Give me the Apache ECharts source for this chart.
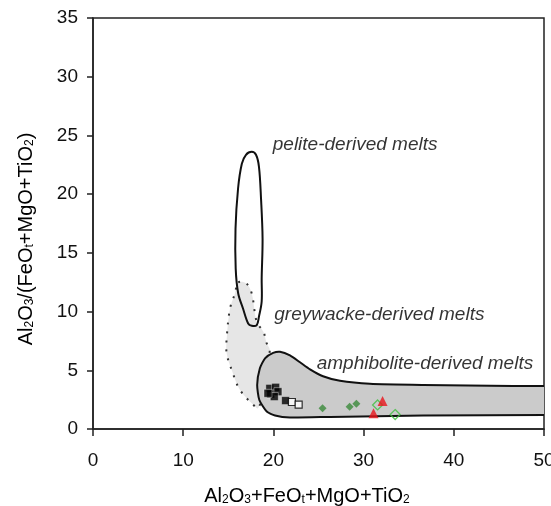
<!DOCTYPE html>
<html>
<head>
<meta charset="utf-8">
<script src="https://cdn.jsdelivr.net/npm/echarts@6/dist/echarts.min.js"></script>
<style>
  html, body { margin: 0; padding: 0; background: #fff; }
  #main { width: 551px; height: 506px; }
</style>
</head>
<body>
<div id="main"></div>
<script>
// field outlines (x = Al2O3+FeOt+MgO+TiO2, y = Al2O3/(FeOt+MgO+TiO2))
const pelite = [
  [17.6, 23.6], [18.07, 23.35], [18.4, 22.33], [18.63, 19.6], [18.8, 16.2],
  [18.7, 12.81], [18.7, 10.86], [18.4, 9.58], [18.15, 8.84], [17.6, 8.79],
  [17.2, 8.99], [16.63, 10.26], [16.1, 11.54], [15.82, 13.66], [15.8, 17.06],
  [16.08, 20.46], [16.5, 22.58], [16.96, 23.35]
];
const greywacke = [
  [16.1, 12.47], [17.0, 12.39], [17.6, 11.54], [18.15, 9.13], [18.9, 8.27],
  [19.26, 7.29], [19.6, 6.72], [18.9, 3.0], [18.3, 1.77], [17.96, 1.91],
  [16.3, 3.32], [15.38, 5.02], [14.82, 6.44], [14.82, 7.71], [15.19, 10.26],
  [15.74, 11.54]
];
// runs past the right edge of the plot, clipped there
const amphibolite = [
  [19.97, 6.48], [20.73, 6.58], [21.84, 6.27], [22.95, 5.68], [24.06, 5.08],
  [25.5, 4.49], [27.38, 4.1], [30.7, 3.85], [36.6, 3.75], [46.56, 3.66],
  [50.5, 3.66], [52, 3.66], [52, 1.2], [50.5, 1.2], [36.6, 1.15], [26.3, 1.03],
  [21.84, 0.98], [20.18, 1.15], [19.26, 1.49], [18.44, 2.47], [18.2, 3.75],
  [18.5, 5.17], [19.07, 6.02]
];

// samples
const blackFilledSquares = [
  [19.6, 3.46], [20.25, 3.55], [19.7, 2.98], [20.5, 3.18], [20.1, 2.76],
  [19.4, 3.04], [21.35, 2.42]
];
const openSquares = [[22.05, 2.3], [22.8, 2.08]];
const greenFilledDiamonds = [[25.45, 1.77], [28.45, 1.9], [29.2, 2.16]];
const greenOpenDiamonds = [[31.55, 2.05], [33.5, 1.23]];
const redTriangles = [[32.1, 2.38], [31.1, 1.34]];

// field names
const fieldLabels = [
  { name: 'pelite-derived melts', value: [19.93, 24.2] },
  { name: 'greywacke-derived melts', value: [20.1, 9.75] },
  { name: 'amphibolite-derived melts', value: [24.8, 5.6] }
];

const xTicks = { min: 0, max: 50, interval: 10 };
const yTicks = { min: 0, max: 35, interval: 5 };

function polygonSeries(points, style, smooth, z) {
  return {
    type: 'custom',
    coordinateSystem: 'cartesian2d',
    data: points,
    z: z,
    clip: true,
    silent: true,
    renderItem: function (params, api) {
      if (params.dataIndex !== 0) return null;
      const pts = points.map(function (p) { return api.coord(p); });
      return {
        type: 'polygon',
        shape: { points: pts, smooth: smooth },
        style: style
      };
    }
  };
}

const txt = '#111';
const font = 'Liberation Sans, Arial';
const rich = {
  n: { fontSize: 20, fontFamily: font, color: txt, verticalAlign: 'bottom', lineHeight: 24 },
  s: { fontSize: 12, fontFamily: font, color: txt, verticalAlign: 'bottom', lineHeight: 12 }
};

const chart = echarts.init(document.getElementById('main'));
chart.setOption({
  animation: false,
  backgroundColor: '#fff',
  grid: {
    left: 93, right: 7, top: 18, bottom: 77,
    outerBoundsMode: 'none',
    show: true, borderColor: '#222', borderWidth: 1.5
  },
  xAxis: {
    type: 'value',
    min: xTicks.min, max: xTicks.max, interval: xTicks.interval,
    axisLine: { show: true, lineStyle: { color: '#222', width: 1.5 } },
    axisTick: { show: true, length: 7, lineStyle: { color: '#222', width: 1.5 } },
    axisLabel: { color: txt, fontSize: 19, fontFamily: font, margin: 22 },
    splitLine: { show: false }
  },
  yAxis: {
    type: 'value',
    min: yTicks.min, max: yTicks.max, interval: yTicks.interval,
    axisLine: { show: true, lineStyle: { color: '#222', width: 1.5 } },
    axisTick: { show: true, length: 6, lineStyle: { color: '#222', width: 1.5 } },
    axisLabel: { color: txt, fontSize: 19, fontFamily: font, margin: 15 },
    splitLine: { show: false }
  },
  graphic: [
    {
      type: 'text',
      x: 307, y: 494,
      style: {
        text: '{n|Al}{s|2}{n|O}{s|3}{n|+FeO}{s|t}{n|+MgO+TiO}{s|2}',
        rich: rich,
        align: 'center', verticalAlign: 'middle'
      }
    },
    {
      type: 'text',
      x: 24, y: 239,
      rotation: Math.PI / 2,
      style: {
        text: '{n|Al}{s|2}{n|O}{s|3}{n|/(FeO}{s|t}{n|+MgO+TiO}{s|2}{n|)}',
        rich: rich,
        align: 'center', verticalAlign: 'middle'
      }
    }
  ],
  series: [
    polygonSeries(greywacke, { fill: '#e6e6e6', stroke: '#333', lineWidth: 2, lineDash: [2, 7] }, 0.35, 1),
    polygonSeries(amphibolite, { fill: '#cbcbcb', stroke: '#111', lineWidth: 2 }, 0.2, 2),
    polygonSeries(pelite, { fill: 'none', stroke: '#111', lineWidth: 2 }, 0.35, 3),
    {
      type: 'scatter', data: blackFilledSquares, symbol: 'rect', symbolSize: 8, z: 5,
      itemStyle: { color: '#000', borderColor: '#fff', borderWidth: 0.5 }
    },
    {
      type: 'scatter', data: openSquares, symbol: 'rect', symbolSize: 7, z: 5,
      itemStyle: { color: '#fff', borderColor: '#000', borderWidth: 1.2 }
    },
    {
      type: 'scatter', data: greenFilledDiamonds, symbol: 'diamond', symbolSize: 8, z: 5,
      itemStyle: { color: '#3a8a3a' }
    },
    {
      type: 'scatter', data: greenOpenDiamonds, symbol: 'diamond', symbolSize: 10, z: 5,
      itemStyle: { color: 'rgba(255,255,255,0)', borderColor: '#3fbf3f', borderWidth: 1.3 }
    },
    {
      type: 'scatter', data: redTriangles, symbol: 'triangle', symbolSize: 10, z: 6,
      itemStyle: { color: '#e8141b' }
    },
    {
      type: 'scatter', data: fieldLabels, symbolSize: 0, z: 7, silent: true,
      label: {
        show: true, position: 'inside', align: 'left', verticalAlign: 'middle',
        formatter: '{b}', color: '#000', fontSize: 19, fontStyle: 'italic',
        fontFamily: font, textBorderWidth: 0
      }
    }
  ]
});
</script>
</body>
</html>
